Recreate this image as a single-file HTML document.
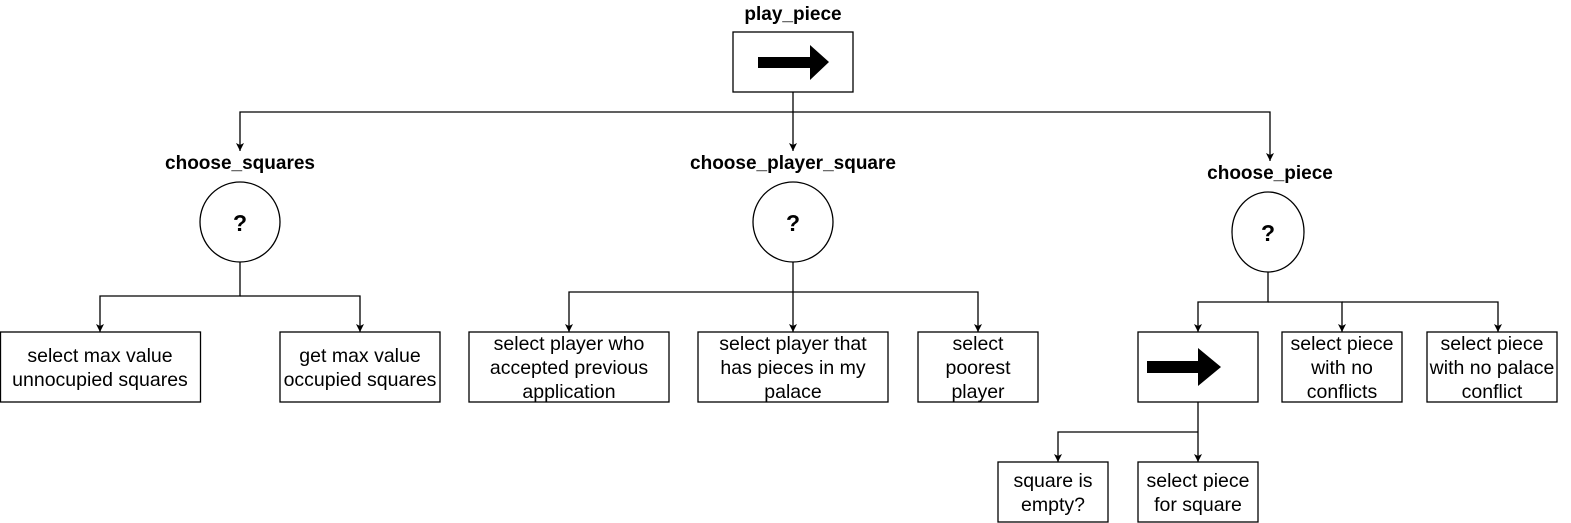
<!DOCTYPE html>
<html><head><style>body{margin:0;background:#fff}</style></head><body>
<svg width="1571" height="523" xmlns="http://www.w3.org/2000/svg" style="display:block">
<defs><marker id="a" markerWidth="9" markerHeight="9" refX="8" refY="4" orient="auto" markerUnits="userSpaceOnUse"><path d="M0,0 L8,4 L0,8 L2,4 Z" fill="#000"/></marker></defs>
<g fill="none" stroke="#000" stroke-width="1.3">
<path d="M793,92 V151" marker-end="url(#a)"/>
<path d="M793,112 H240 V151" marker-end="url(#a)"/>
<path d="M793,112 H1270 V161" marker-end="url(#a)"/>
<path d="M240,262 V296 H100 V332" marker-end="url(#a)"/>
<path d="M240,296 H360 V332" marker-end="url(#a)"/>
<path d="M793,262 V332" marker-end="url(#a)"/>
<path d="M793,292 H569 V332" marker-end="url(#a)"/>
<path d="M793,292 H978 V332" marker-end="url(#a)"/>
<path d="M1268,272 V302 H1198 V332" marker-end="url(#a)"/>
<path d="M1268,302 H1342 V332" marker-end="url(#a)"/>
<path d="M1342,302 H1498 V332" marker-end="url(#a)"/>
<path d="M1198,402 V462" marker-end="url(#a)"/>
<path d="M1198,432 H1058 V462" marker-end="url(#a)"/>
<rect x="733" y="32" width="120" height="60"/>
<ellipse cx="240" cy="222" rx="40" ry="40"/>
<ellipse cx="793" cy="222" rx="40" ry="40"/>
<ellipse cx="1268" cy="232" rx="36" ry="40"/>
<rect x="0.5" y="332" width="200" height="70"/>
<rect x="280" y="332" width="160" height="70"/>
<rect x="469" y="332" width="200" height="70"/>
<rect x="698" y="332" width="190" height="70"/>
<rect x="918" y="332" width="120" height="70"/>
<rect x="1138" y="332" width="120" height="70"/>
<rect x="1282" y="332" width="120" height="70"/>
<rect x="1427" y="332" width="130" height="70"/>
<rect x="998" y="462" width="110" height="60"/>
<rect x="1138" y="462" width="120" height="60"/>
</g>
<path d="M758,57 H810 V45 L829,62 L810,80 V68 H758 Z" fill="#000"/>
<path d="M1147,361 H1198 V348 L1221,367 L1198,386 V373 H1147 Z" fill="#000"/>
<g font-family="Liberation Sans, sans-serif" font-size="19" text-anchor="middle" fill="#000">
<g font-weight="bold">
<text x="793" y="20">play_piece</text>
<text x="240" y="169">choose_squares</text>
<text x="793" y="169">choose_player_square</text>
<text x="1270" y="179">choose_piece</text>
<text x="240" y="231" font-size="23">?</text>
<text x="793" y="231" font-size="23">?</text>
<text x="1268" y="241" font-size="23">?</text>
</g>
<g font-size="19.5">
<text x="100" y="362">select max value</text><text x="100" y="386">unnocupied squares</text>
<text x="360" y="362">get max value</text><text x="360" y="386">occupied squares</text>
<text x="569" y="350">select player who</text><text x="569" y="374">accepted previous</text><text x="569" y="398">application</text>
<text x="793" y="350">select player that</text><text x="793" y="374">has pieces in my</text><text x="793" y="398">palace</text>
<text x="978" y="350">select</text><text x="978" y="374">poorest</text><text x="978" y="398">player</text>
<text x="1342" y="350">select piece</text><text x="1342" y="374">with no</text><text x="1342" y="398">conflicts</text>
<text x="1492" y="350">select piece</text><text x="1492" y="374">with no palace</text><text x="1492" y="398">conflict</text>
<text x="1053" y="487">square is</text><text x="1053" y="511">empty?</text>
<text x="1198" y="487">select piece</text><text x="1198" y="511">for square</text>
</g>
</g>
</svg>
</body></html>
